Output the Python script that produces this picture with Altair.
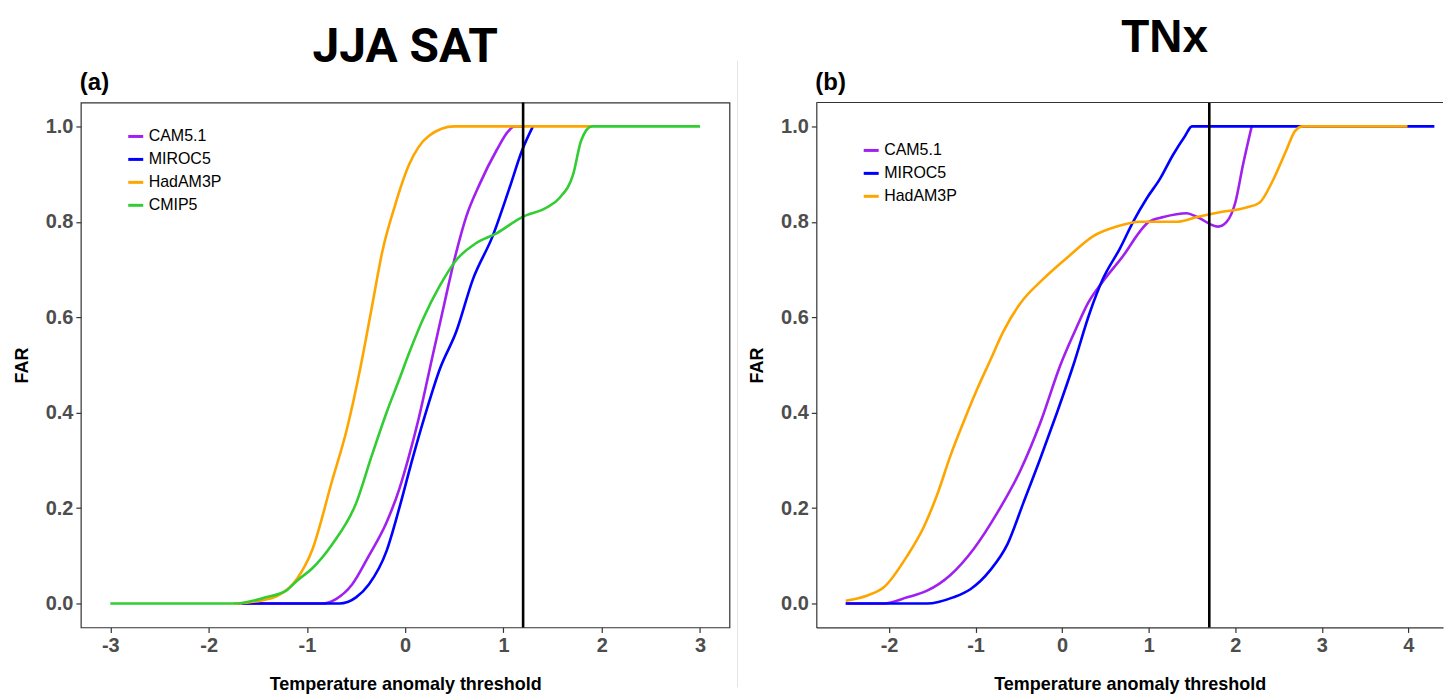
import altair as alt
import pandas as pd

# ---------------- Panel (a): JJA SAT ----------------
a_models = ["CAM5.1", "MIROC5", "HadAM3P", "CMIP5"]
a_colors = ["#A020F0", "#0000FF", "#FFA500", "#32CD32"]

a_cam_x = [-1.70, -0.85, -0.70, -0.54, -0.37, -0.19, -0.06, 0.04, 0.14, 0.28, 0.40, 0.50, 0.62, 0.76, 0.93, 1.05, 1.11, 1.20]
a_cam_y = [0.0, 0.0, 0.01, 0.04, 0.10, 0.17, 0.24, 0.31, 0.39, 0.52, 0.63, 0.72, 0.81, 0.88, 0.95, 0.99, 1.0, 1.0]

a_miroc_x = [-1.66, -0.67, -0.50, -0.37, -0.19, -0.06, 0.07, 0.21, 0.35, 0.52, 0.69, 0.89, 1.06, 1.19, 1.30]
a_miroc_y = [0.0, 0.0, 0.013, 0.04, 0.11, 0.20, 0.30, 0.40, 0.49, 0.57, 0.68, 0.77, 0.87, 0.95, 1.0]

a_had_x = [-1.74, -1.50, -1.29, -1.10, -0.95, -0.74, -0.60, -0.45, -0.34, -0.23, -0.11, 0.04, 0.24, 0.50, 1.90]
a_had_y = [0.0, 0.005, 0.017, 0.052, 0.11, 0.26, 0.36, 0.50, 0.62, 0.74, 0.83, 0.92, 0.98, 1.0, 1.0]

a_cmip_x = [-3.0, -1.74, -1.42, -1.21, -1.10, -0.95, -0.74, -0.50, -0.34, -0.19, -0.06, 0.04, 0.19, 0.35, 0.52, 0.72, 0.93, 1.19, 1.44, 1.57, 1.71, 1.79, 1.90, 3.0]
a_cmip_y = [0.0, 0.0, 0.013, 0.027, 0.048, 0.073, 0.125, 0.21, 0.31, 0.40, 0.47, 0.525, 0.60, 0.665, 0.72, 0.755, 0.776, 0.81, 0.83, 0.85, 0.90, 0.97, 1.0, 1.0]

a_threshold = 1.2
a_x_ticks = [-3, -2, -1, 0, 1, 2, 3]

# ---------------- Panel (b): TNx ----------------
b_models = ["CAM5.1", "MIROC5", "HadAM3P"]
b_colors = ["#A020F0", "#0000FF", "#FFA500"]

b_cam_x = [-2.50, -2.06, -1.79, -1.56, -1.29, -1.02, -0.75, -0.48, -0.25, -0.02, 0.17, 0.30, 0.47, 0.71, 0.90, 1.00, 1.17, 1.44, 1.56, 1.80, 1.90, 2.00, 2.09, 2.19]
b_cam_y = [0.0, 0.0, 0.013, 0.027, 0.06, 0.115, 0.19, 0.28, 0.38, 0.50, 0.58, 0.63, 0.675, 0.73, 0.78, 0.80, 0.81, 0.818, 0.81, 0.79, 0.80, 0.84, 0.92, 1.0]

b_miroc_x = [-2.50, -1.56, -1.26, -1.06, -0.83, -0.63, -0.45, -0.25, -0.06, 0.13, 0.32, 0.47, 0.67, 0.82, 0.98, 1.13, 1.28, 1.42, 1.50, 4.30]
b_miroc_y = [0.0, 0.0, 0.013, 0.03, 0.07, 0.125, 0.21, 0.305, 0.40, 0.50, 0.61, 0.68, 0.745, 0.80, 0.85, 0.89, 0.94, 0.98, 1.0, 1.0]

b_had_x = [-2.50, -2.25, -2.06, -1.79, -1.60, -1.44, -1.29, -1.14, -0.98, -0.83, -0.68, -0.48, -0.22, 0.09, 0.36, 0.63, 0.90, 1.33, 1.56, 1.82, 2.13, 2.28, 2.43, 2.59, 2.69, 2.78, 3.99]
b_had_y = [0.006, 0.017, 0.034, 0.10, 0.16, 0.23, 0.31, 0.38, 0.45, 0.51, 0.57, 0.63, 0.68, 0.73, 0.77, 0.79, 0.80, 0.80, 0.81, 0.82, 0.83, 0.84, 0.885, 0.95, 0.99, 1.0, 1.0]

b_threshold = 1.7
b_x_ticks = [-2, -1, 0, 1, 2, 3, 4]

y_ticks = [0.0, 0.2, 0.4, 0.6, 0.8, 1.0]

# ---------------- styling ----------------
FONT = "Liberation Sans, Arial, sans-serif"
H = 526


def long_df(models, xs, ys):
    rows = []
    for m, xl, yl in zip(models, xs, ys):
        for i, (x, y) in enumerate(zip(xl, yl)):
            rows.append({"model": m, "x": x, "y": y, "i": i})
    return pd.DataFrame(rows)


def panel(models, colors, xs, ys, threshold, xdom, xticks, W, title, title_font,
          title_size, title_x, title_dy, tag, legend_y, full_border):
    df = long_df(models, xs, ys)
    xscale = alt.Scale(domain=xdom, nice=False, zero=False)
    yscale = alt.Scale(domain=[-0.05, 1.05], nice=False, zero=False)
    xaxis = alt.Axis(values=xticks, labelExpr="toString(datum.value)",
                     title="Temperature anomaly threshold",
                     titleY=62, titleBaseline="alphabetic", grid=False,
                     domain=not full_border, domainColor="#333333", domainWidth=1.2)
    yaxis = alt.Axis(values=y_ticks, format=".1f", title="FAR", titleX=-58.5,
                     titleBaseline="middle", grid=False,
                     domain=not full_border, domainColor="#333333", domainWidth=1.2)
    legend = alt.Legend(orient="none", legendX=46, legendY=legend_y, title=None,
                        symbolType="stroke", symbolSize=225, symbolStrokeWidth=3,
                        labelFont=FONT, labelFontSize=16, labelColor="black",
                        rowPadding=6, padding=0, labelOffset=4)
    layers = []
    for m in models:
        layers.append(
            alt.Chart(df)
            .transform_filter(alt.datum.model == m)
            .mark_line(strokeWidth=2.6, interpolate="monotone")
            .encode(
                x=alt.X("x:Q", scale=xscale, axis=xaxis),
                y=alt.Y("y:Q", scale=yscale, axis=yaxis),
                color=alt.Color("model:N", scale=alt.Scale(domain=models, range=colors), legend=legend),
                order="i:Q",
            )
        )
    rule = alt.Chart(pd.DataFrame({"t": [threshold]})).mark_rule(color="black", strokeWidth=2.6).encode(
        x=alt.X("t:Q", scale=xscale, axis=xaxis)
    )
    layers.append(rule)
    ttl = alt.Chart(pd.DataFrame({"t": [title]})).mark_text(
        font=title_font, fontSize=title_size, fontWeight="bold", align="center",
        baseline="alphabetic", color="black"
    ).encode(text="t:N", x=alt.value(title_x), y=alt.value(title_dy))
    tg = alt.Chart(pd.DataFrame({"t": [tag]})).mark_text(
        font=FONT, fontSize=24, fontWeight="bold", align="left", baseline="alphabetic", color="black"
    ).encode(text="t:N", x=alt.value(-1), y=alt.value(-13))
    layers += [ttl, tg]
    one = pd.DataFrame({"t": [0]})
    if full_border:
        sep = alt.Chart(one).mark_rule(color="#e4e4e4", strokeWidth=1).encode(
            x=alt.value(W + 8), y=alt.value(-42), y2=alt.value(H + 60)
        )
        layers.append(sep)
        ch = alt.layer(*layers).properties(width=W, height=H)
    else:
        top = alt.Chart(one).mark_rule(color="#333333", strokeWidth=1.2).encode(
            x=alt.value(0), x2=alt.value(W), y=alt.value(0)
        )
        layers.append(top)
        ch = alt.layer(*layers).properties(width=W, height=H,
                                           view=alt.ViewBackground(stroke="transparent"))
    return ch


left = panel(a_models, a_colors, [a_cam_x, a_miroc_x, a_had_x, a_cmip_x],
             [a_cam_y, a_miroc_y, a_had_y, a_cmip_y], a_threshold, [-3.3, 3.3], a_x_ticks,
             650, "JJA SAT", "Roboto, Liberation Sans, sans-serif", 48, 325, -41, "(a)", 25, True)

right = panel(b_models, b_colors, [b_cam_x, b_miroc_x, b_had_x],
              [b_cam_y, b_miroc_y, b_had_y], b_threshold, [-2.84, 4.40], b_x_ticks,
              628, "TNx", "Liberation Sans, Arial, sans-serif", 46, 349, -51, "(b)", 39, False)

chart = (
    alt.hconcat(left, right, spacing=8)
    .resolve_scale(color="independent", x="independent", y="independent")
    .resolve_legend(color="independent")
    .configure(padding={"left": 4, "top": 5, "right": 0, "bottom": 2}, background="white")
    .configure_view(stroke="#333333", strokeWidth=1.2)
    .configure_axis(
        labelFont=FONT, labelFontSize=20, labelFontWeight="bold", labelColor="#4d4d4d",
        labelPadding=3, titleFont=FONT, titleFontSize=18, titleFontWeight="bold",
        titleColor="black", tickColor="#333333", tickSize=5, tickWidth=1.2,
    )
)

chart.save("out.html", embed_options={"renderer": "svg", "actions": False})
